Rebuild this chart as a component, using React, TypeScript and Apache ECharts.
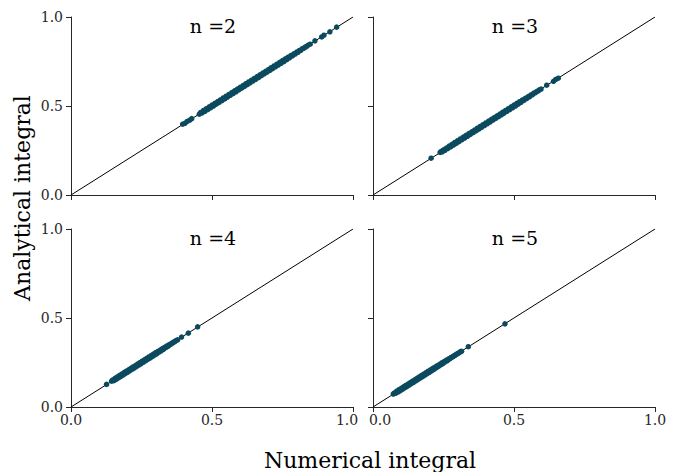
import { useEffect, useRef } from "react";
import * as echarts from "echarts";

const tickValues = [0, 0.5, 1];
const panelTitles = ["n =2", "n =3", "n =4", "n =5"];
const xAxisTitle = "Numerical integral";
const yAxisTitle = "Analytical integral";

// [numerical, analytical]
const n2Points = [
  [0.396, 0.398], [0.404, 0.403], [0.412, 0.413], [0.421, 0.42], [0.428, 0.429],
  [0.455, 0.454], [0.46, 0.464], [0.465, 0.461], [0.47, 0.475], [0.475, 0.47],
  [0.48, 0.485], [0.485, 0.48], [0.49, 0.495], [0.495, 0.49], [0.5, 0.505],
  [0.505, 0.5], [0.51, 0.515], [0.515, 0.51], [0.52, 0.525], [0.525, 0.52],
  [0.53, 0.535], [0.535, 0.53], [0.54, 0.545], [0.545, 0.54], [0.55, 0.555],
  [0.555, 0.55], [0.56, 0.565], [0.565, 0.56], [0.57, 0.575], [0.575, 0.57],
  [0.58, 0.585], [0.585, 0.58], [0.59, 0.595], [0.595, 0.59], [0.6, 0.605],
  [0.605, 0.6], [0.61, 0.615], [0.615, 0.61], [0.62, 0.625], [0.625, 0.62],
  [0.63, 0.635], [0.635, 0.63], [0.64, 0.645], [0.645, 0.64], [0.65, 0.655],
  [0.655, 0.65], [0.66, 0.665], [0.665, 0.66], [0.67, 0.675], [0.675, 0.67],
  [0.68, 0.685], [0.685, 0.68], [0.69, 0.695], [0.695, 0.69], [0.7, 0.705],
  [0.705, 0.7], [0.71, 0.715], [0.715, 0.71], [0.72, 0.725], [0.725, 0.72],
  [0.73, 0.735], [0.735, 0.73], [0.74, 0.745], [0.745, 0.74], [0.75, 0.755],
  [0.755, 0.75], [0.76, 0.765], [0.765, 0.76], [0.77, 0.774], [0.775, 0.771],
  [0.78, 0.784], [0.785, 0.781], [0.79, 0.793], [0.795, 0.792], [0.8, 0.803],
  [0.805, 0.802], [0.81, 0.812], [0.815, 0.813], [0.82, 0.822], [0.825, 0.824],
  [0.83, 0.831], [0.835, 0.834], [0.84, 0.841], [0.848, 0.847], [0.865, 0.866],
  [0.889, 0.888], [0.897, 0.898], [0.918, 0.917], [0.942, 0.943],
];

const n3Points = [
  [0.206, 0.207], [0.238, 0.239], [0.242, 0.245], [0.246, 0.243], [0.25, 0.254],
  [0.255, 0.251], [0.26, 0.264], [0.265, 0.261], [0.27, 0.275], [0.275, 0.27],
  [0.28, 0.285], [0.285, 0.28], [0.29, 0.295], [0.295, 0.29], [0.3, 0.305],
  [0.305, 0.3], [0.31, 0.315], [0.315, 0.31], [0.32, 0.325], [0.325, 0.32],
  [0.33, 0.335], [0.335, 0.33], [0.34, 0.345], [0.345, 0.34], [0.35, 0.355],
  [0.355, 0.35], [0.36, 0.365], [0.365, 0.36], [0.37, 0.375], [0.375, 0.37],
  [0.38, 0.385], [0.385, 0.38], [0.39, 0.395], [0.395, 0.39], [0.4, 0.405],
  [0.405, 0.4], [0.41, 0.415], [0.415, 0.41], [0.42, 0.425], [0.425, 0.42],
  [0.43, 0.435], [0.435, 0.43], [0.44, 0.445], [0.445, 0.44], [0.45, 0.455],
  [0.455, 0.45], [0.46, 0.465], [0.465, 0.46], [0.47, 0.475], [0.475, 0.47],
  [0.48, 0.485], [0.485, 0.48], [0.49, 0.495], [0.495, 0.49], [0.5, 0.505],
  [0.505, 0.5], [0.51, 0.515], [0.515, 0.51], [0.52, 0.524], [0.525, 0.521],
  [0.53, 0.534], [0.535, 0.531], [0.54, 0.543], [0.545, 0.542], [0.55, 0.553],
  [0.555, 0.552], [0.56, 0.562], [0.565, 0.563], [0.57, 0.572], [0.575, 0.574],
  [0.58, 0.581], [0.585, 0.584], [0.59, 0.591], [0.596, 0.595], [0.616, 0.617],
  [0.64, 0.639], [0.648, 0.649], [0.657, 0.656],
];

const n4Points = [
  [0.126, 0.127], [0.144, 0.145], [0.148, 0.152], [0.152, 0.148], [0.156, 0.161],
  [0.16, 0.155], [0.164, 0.169], [0.168, 0.163], [0.172, 0.177], [0.176, 0.171],
  [0.18, 0.185], [0.184, 0.179], [0.188, 0.193], [0.192, 0.187], [0.196, 0.201],
  [0.2, 0.195], [0.204, 0.209], [0.208, 0.203], [0.212, 0.217], [0.216, 0.211],
  [0.22, 0.225], [0.224, 0.219], [0.228, 0.233], [0.232, 0.227], [0.236, 0.241],
  [0.24, 0.235], [0.244, 0.249], [0.248, 0.243], [0.252, 0.257], [0.256, 0.251],
  [0.26, 0.265], [0.264, 0.259], [0.268, 0.273], [0.272, 0.267], [0.276, 0.281],
  [0.28, 0.275], [0.284, 0.289], [0.288, 0.283], [0.292, 0.297], [0.296, 0.291],
  [0.3, 0.305], [0.304, 0.299], [0.308, 0.312], [0.312, 0.308], [0.316, 0.32],
  [0.32, 0.316], [0.324, 0.328], [0.328, 0.324], [0.332, 0.335], [0.336, 0.333],
  [0.34, 0.343], [0.344, 0.341], [0.348, 0.35], [0.352, 0.35], [0.356, 0.358],
  [0.36, 0.359], [0.364, 0.365], [0.368, 0.367], [0.372, 0.373], [0.378, 0.377],
  [0.392, 0.393], [0.416, 0.415], [0.449, 0.45],
];

const n5Points = [
  [0.072, 0.073], [0.076, 0.079], [0.08, 0.077], [0.084, 0.089], [0.088, 0.083],
  [0.092, 0.097], [0.096, 0.091], [0.1, 0.105], [0.104, 0.099], [0.108, 0.113],
  [0.112, 0.107], [0.116, 0.121], [0.12, 0.115], [0.124, 0.129], [0.128, 0.123],
  [0.132, 0.137], [0.136, 0.131], [0.14, 0.145], [0.144, 0.139], [0.148, 0.153],
  [0.152, 0.147], [0.156, 0.161], [0.16, 0.155], [0.164, 0.169], [0.168, 0.163],
  [0.172, 0.177], [0.176, 0.171], [0.18, 0.185], [0.184, 0.179], [0.188, 0.193],
  [0.192, 0.187], [0.196, 0.201], [0.2, 0.195], [0.204, 0.209], [0.208, 0.203],
  [0.212, 0.217], [0.216, 0.211], [0.22, 0.224], [0.224, 0.22], [0.228, 0.232],
  [0.232, 0.228], [0.236, 0.24], [0.24, 0.236], [0.244, 0.248], [0.248, 0.244],
  [0.252, 0.255], [0.256, 0.253], [0.26, 0.263], [0.264, 0.261], [0.268, 0.27],
  [0.272, 0.27], [0.276, 0.278], [0.28, 0.279], [0.284, 0.285], [0.288, 0.287],
  [0.292, 0.293], [0.296, 0.295], [0.3, 0.301], [0.305, 0.304], [0.31, 0.311],
  [0.314, 0.313], [0.338, 0.339], [0.468, 0.467],
];

const identityLine = [[0, 0], [1, 1]];

const panelData = [n2Points, n3Points, n4Points, n5Points];

const FONT = '"DejaVu Serif", "Liberation Serif", serif';
const AXIS_COLOR = "#262626";
const POINT_COLOR = "#0b4a5e";

export default function App() {
  const ref = useRef<HTMLDivElement>(null);

  useEffect(() => {
    if (!ref.current) return;
    const chart = echarts.init(ref.current, null, { renderer: "svg" });

    const gridPos = [
      { left: 71, top: 17 },
      { left: 373, top: 17 },
      { left: 71, top: 229 },
      { left: 373, top: 229 },
    ];
    const W = 282;
    const H = 178;

    const grids = gridPos.map((g) => ({ left: g.left, top: g.top, width: W, height: H, containLabel: false }));

    const labelStyle = { fontFamily: FONT, fontSize: 14, color: AXIS_COLOR };

    const makeAxis = (i: number, showLabel: boolean, isX: boolean) => ({
      type: "value" as const,
      gridIndex: i,
      min: tickValues[0],
      max: tickValues[tickValues.length - 1],
      interval: tickValues[1] - tickValues[0],
      axisLine: { show: true, onZero: false, lineStyle: { color: AXIS_COLOR, width: 1 } },
      axisTick: { show: true, inside: false, length: 5, lineStyle: { color: AXIS_COLOR, width: 1 } },
      axisLabel: {
        show: showLabel,
        formatter: (v: number) => {
          const s = v.toFixed(1);
          if (isX && i === 2 && v === 1) return `{r|${s}}`;
          if (isX && i === 3 && v === 0) return `{l|${s}}`;
          return s;
        },
        ...labelStyle,
        margin: isX ? 6 : 8,
        rich: {
          r: { ...labelStyle, padding: [0, 12, 0, 0] },
          l: { ...labelStyle, padding: [0, 0, 0, 14] },
        },
      },
      splitLine: { show: false },
    });

    const xAxes = gridPos.map((_, i) => makeAxis(i, i >= 2, true));
    const yAxes = gridPos.map((_, i) => makeAxis(i, i % 2 === 0, false));

    const series: any[] = [];
    panelData.forEach((pts, i) => {
      series.push({
        type: "line",
        xAxisIndex: i,
        yAxisIndex: i,
        data: identityLine,
        showSymbol: false,
        symbol: "none",
        lineStyle: { color: "#000", width: 1 },
        silent: true,
        z: 2,
      });
      series.push({
        type: "scatter",
        xAxisIndex: i,
        yAxisIndex: i,
        data: pts,
        symbolSize: 5.5,
        itemStyle: { color: POINT_COLOR, opacity: 1 },
        z: 3,
      });
    });

    const textStyle = (text: string, size: number) => ({
      text,
      font: `${size}px ${FONT}`,
      fill: "#000",
      align: "center",
      verticalAlign: "middle",
      textAlign: "center",
      textVerticalAlign: "middle",
    });

    const graphics: any[] = panelTitles.map((t, i) => ({
      type: "text",
      x: gridPos[i].left + W / 2 + 1,
      y: gridPos[i].top + 9,
      style: textStyle(t, 19),
      z: 10,
    }));
    graphics.push({
      type: "text",
      x: 22,
      y: 198,
      rotation: Math.PI / 2,
      style: textStyle(yAxisTitle, 22),
    });
    graphics.push({
      type: "text",
      x: 370,
      y: 460,
      style: textStyle(xAxisTitle, 22),
    });

    chart.setOption({
      animation: false,
      backgroundColor: "#fff",
      grid: grids,
      xAxis: xAxes,
      yAxis: yAxes,
      series,
      graphic: graphics,
    });

    return () => chart.dispose();
  }, []);

  return (
    <div
      ref={ref}
      style={{ position: "fixed", left: 0, top: 0, width: 682, height: 472, background: "#fff" }}
    />
  );
}
